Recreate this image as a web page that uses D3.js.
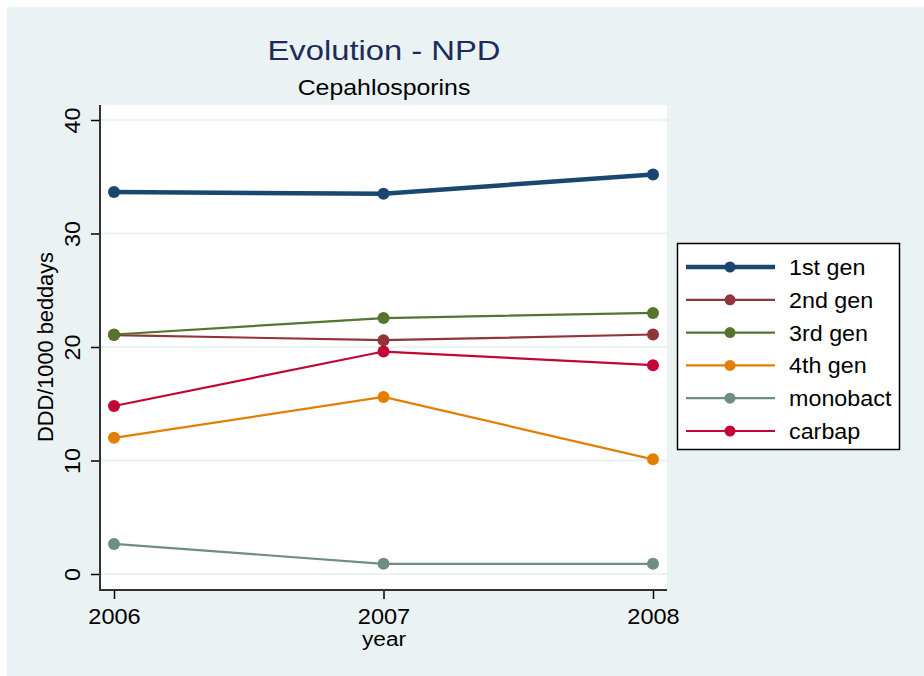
<!DOCTYPE html>
<html><head><meta charset="utf-8">
<script src="https://cdn.jsdelivr.net/npm/d3@7"></script>
<style>body{margin:0;background:#fff}svg{display:block}text{font-family:"Liberation Sans",Arial,sans-serif}</style>
</head><body><svg id="c" width="924" height="676"></svg>
<script>
const years = [2006, 2007, 2008];
const seriesNames = ["1st gen", "2nd gen", "3rd gen", "4th gen", "monobact", "carbap"];
const gen1 = [33.65, 33.5, 35.2];
const gen2 = [21.05, 20.6, 21.1];
const gen3 = [21.1, 22.55, 23.0];
const gen4 = [12.0, 15.6, 10.1];
const monobact = [2.65, 0.9, 0.9];
const carbap = [14.8, 19.6, 18.4];
const yTicks = [0, 10, 20, 30, 40];
const colors = ["#1a476f", "#90353b", "#55752f", "#e37e00", "#6e8e84", "#c10534"];
const widths = [4.5, 2.2, 2.2, 2.2, 2.2, 2.2];
const allValues = [gen1, gen2, gen3, gen4, monobact, carbap];

const svg = d3.select("#c");
svg.append("rect").attr("x", 7).attr("y", 7).attr("width", 917).attr("height", 669).attr("fill", "#eaf2f3");

const L = 100, R = 667, T = 105, B = 590;
svg.append("rect").attr("x", L).attr("y", T).attr("width", R - L).attr("height", B - T).attr("fill", "#fff");

const x = d3.scaleLinear().domain([2006, 2008]).range([114, 653]);
const y = d3.scaleLinear().domain([0, 40]).range([574, 120]);

function label(px, py, str, size, sx, color, anchor, rot) {
  return svg.append("text")
    .attr("transform", `translate(${px},${py})` + (rot ? ` rotate(${rot})` : "") + ` scale(${sx},1)`)
    .attr("text-anchor", anchor || "middle").attr("fill", color || "#000")
    .style("font-size", size + "px").text(str);
}

// gridlines
svg.append("g").selectAll("line").data(yTicks).join("line")
  .attr("x1", L).attr("x2", R).attr("y1", d => y(d)).attr("y2", d => y(d))
  .attr("stroke", "#eaf2f3").attr("stroke-width", 2);

// y axis
const yAxis = svg.append("g").attr("transform", `translate(${L},0)`)
  .call(d3.axisLeft(y).tickValues(yTicks).tickSize(9).tickPadding(0).tickFormat(d3.format("d")));
yAxis.select(".domain").remove();
yAxis.selectAll(".tick line").attr("stroke", "#000").attr("stroke-width", 1.5);
yAxis.selectAll(".tick text").attr("transform", "translate(-20,0) rotate(-90) scale(1.06,1)").attr("text-anchor", "middle")
  .attr("x", 0).attr("y", 0).attr("dy", 0).attr("fill", "#000").style("font-size", "22px");
svg.append("line").attr("x1", L).attr("x2", L).attr("y1", T).attr("y2", B + 1).attr("stroke", "#333").attr("stroke-width", 2);

// x axis
const xAxis = svg.append("g").attr("transform", `translate(0,${B})`)
  .call(d3.axisBottom(x).tickValues(years).tickSize(9).tickPadding(0).tickFormat(d3.format("d")));
xAxis.select(".domain").remove();
xAxis.selectAll(".tick line").attr("stroke", "#000").attr("stroke-width", 1.5);
xAxis.selectAll(".tick text").attr("y", 34).attr("dy", 0).attr("transform", "scale(1.07,1)")
  .attr("fill", "#000").style("font-size", "22px");
svg.append("line").attr("x1", L - 1).attr("x2", R).attr("y1", B).attr("y2", B).attr("stroke", "#333").attr("stroke-width", 2);

// titles
label(384, 60, "Evolution - NPD", 28, 1.17, "#1c2b5a");
label(384, 95, "Cepahlosporins", 22, 1.13, "#000");
label(53, 347, "DDD/1000 beddays", 22, 0.99, "#000", "middle", -90);
label(384, 646, "year", 21, 1.08, "#000");

// series
const line = d3.line().x((d, i) => x(years[i])).y(d => y(d));
allValues.forEach((vals, k) => {
  const g = svg.append("g");
  g.append("path").attr("d", line(vals)).attr("fill", "none").attr("stroke", colors[k]).attr("stroke-width", widths[k]);
  g.selectAll("circle").data(vals).join("circle")
    .attr("cx", (d, i) => x(years[i])).attr("cy", d => y(d)).attr("r", 6).attr("fill", colors[k]);
});

// legend
const lg = svg.append("g");
lg.append("rect").attr("x", 677.5).attr("y", 243.5).attr("width", 222).attr("height", 206).attr("fill", "#fff").attr("stroke", "#000").attr("stroke-width", 1.5);
const ly = d3.scalePoint().domain(seriesNames).range([267, 431]);
seriesNames.forEach((n, k) => {
  const yy = ly(n);
  lg.append("line").attr("x1", 686).attr("x2", 775).attr("y1", yy).attr("y2", yy).attr("stroke", colors[k]).attr("stroke-width", widths[k]);
  lg.append("circle").attr("cx", 730).attr("cy", yy).attr("r", 5.5).attr("fill", colors[k]);
  label(789, yy + 8, n, 22, 1.06, "#000", "start");
});
</script></body></html>
